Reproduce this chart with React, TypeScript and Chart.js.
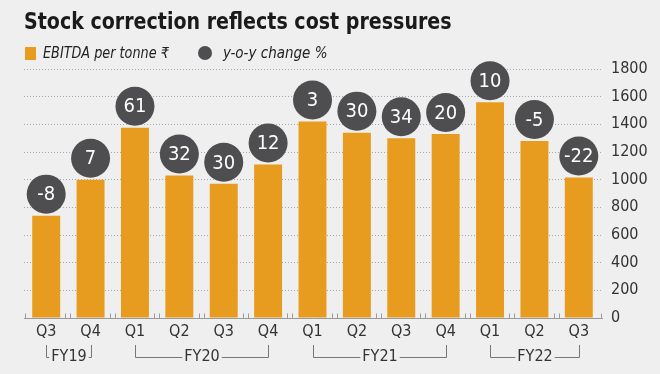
import React, { useEffect, useRef } from "react";
import { Chart, registerables } from "chart.js";

Chart.register(...registerables);

const quarters = ["Q3", "Q4", "Q1", "Q2", "Q3", "Q4", "Q1", "Q2", "Q3", "Q4", "Q1", "Q2", "Q3"];
const ebitda = [740, 1000, 1375, 1030, 970, 1110, 1420, 1340, 1300, 1330, 1560, 1280, 1015];
const yoyChange = [-8, 7, 61, 32, 30, 12, 3, 30, 34, 20, 10, -5, -22];
const fyLabels = ["FY19", "FY20", "FY21", "FY22"];
const fyStart = [0, 2, 6, 10];
const fyEnd = [1, 5, 9, 12];
const yTicks = [0, 200, 400, 600, 800, 1000, 1200, 1400, 1600, 1800];

const FONT = "'DejaVu Sans Condensed', 'Liberation Sans Narrow', sans-serif";
const BAR = "#E89C1F";
const DOT = "#4e4e50";
const BG = "#efefef";

const overlay = {
  id: "overlay",
  afterDatasetsDraw(chart: any) {
    const ctx = chart.ctx;
    const meta = chart.getDatasetMeta(0);
    ctx.save();
    meta.data.forEach((bar: any, i: number) => {
      const cx = bar.x;
      const cy = bar.y - 21.5;
      ctx.beginPath();
      ctx.arc(cx, cy, 19.5, 0, Math.PI * 2);
      ctx.fillStyle = DOT;
      ctx.fill();
      ctx.fillStyle = "#ffffff";
      ctx.font = `20px ${FONT}`;
      ctx.textAlign = "center";
      ctx.textBaseline = "middle";
      ctx.fillText(String(yoyChange[i]), cx, cy + 1);
    });
    ctx.restore();
  },
  afterDraw(chart: any) {
    const ctx = chart.ctx;
    const area = chart.chartArea;
    const xs = chart.scales.x;
    const ys = chart.scales.y;
    const base = Math.round(ys.getPixelForValue(0)) + 0.5;
    ctx.save();
    ctx.strokeStyle = "#9a9a9a";
    ctx.lineWidth = 1;
    ctx.beginPath();
    ctx.moveTo(area.left, base);
    ctx.lineTo(area.right + 2, base);
    ctx.stroke();
    const n = quarters.length;
    const tick = (px: number) => {
      ctx.beginPath();
      ctx.moveTo(Math.round(px) + 0.5, base);
      ctx.lineTo(Math.round(px) + 0.5, base - 5);
      ctx.stroke();
    };
    tick(area.left + 1);
    tick(area.right);
    for (let i = 1; i < n; i++) {
      const px = (xs.getPixelForValue(i - 1) + xs.getPixelForValue(i)) / 2;
      tick(px - 3);
      tick(px + 2);
    }
    ctx.font = `16px ${FONT}`;
    ctx.textAlign = "center";
    ctx.textBaseline = "middle";
    ctx.strokeStyle = "#777";
    ctx.fillStyle = "#333";
    const top = 345;
    const bot = 357.5;
    const ty = 356.5;
    fyLabels.forEach((lab, k) => {
      const x1 = Math.round(xs.getPixelForValue(fyStart[k])) + 0.5;
      const x2 = Math.round(xs.getPixelForValue(fyEnd[k])) + 0.5;
      const mid = (x1 + x2) / 2;
      const w = ctx.measureText(lab).width;
      ctx.beginPath();
      ctx.moveTo(x1, top);
      ctx.lineTo(x1, bot);
      ctx.lineTo(mid - w / 2 - 2, bot);
      ctx.moveTo(mid + w / 2 + 2, bot);
      ctx.lineTo(x2, bot);
      ctx.lineTo(x2, top);
      ctx.stroke();
      ctx.fillText(lab, mid, ty);
    });
    ctx.restore();
  },
};

const abs = (left: number, top: number, extra: any = {}) => ({
  position: "absolute" as const,
  left,
  top,
  whiteSpace: "nowrap" as const,
  transformOrigin: "left center",
  ...extra,
});

export default function App() {
  const ref = useRef<HTMLCanvasElement>(null);
  useEffect(() => {
    const canvas = ref.current;
    if (!canvas) return;
    const chart = new Chart(canvas, {
      type: "bar",
      data: {
        labels: quarters,
        datasets: [
          {
            label: "EBITDA per tonne ₹",
            data: ebitda,
            backgroundColor: BAR,
            borderWidth: 0,
            barPercentage: 0.63,
            categoryPercentage: 1,
          },
        ],
      },
      options: {
        responsive: false,
        animation: false,
        devicePixelRatio: 1,
        layout: { padding: { left: 24, top: 69, right: 0, bottom: 0 } },
        plugins: { legend: { display: false }, tooltip: { enabled: false }, title: { display: false } },
        scales: {
          x: {
            grid: { display: false, drawTicks: false, tickLength: 0 },
            border: { display: false },
            ticks: { color: "#333", font: { family: FONT, size: 16 }, padding: 4, maxRotation: 0, autoSkip: false },
            afterFit: (s: any) => {
              s.height = 56;
            },
          },
          y: {
            position: "right",
            min: 0,
            max: 1800,
            afterBuildTicks: (s: any) => {
              s.ticks = yTicks.map((v) => ({ value: v }));
            },
            grid: {
              color: (c: any) => (c.tick && c.tick.value === 0 ? "rgba(0,0,0,0)" : "#a8a8a8"),
              drawTicks: false,
              lineWidth: 1,
            },
            border: { display: false, dash: [1, 2] },
            ticks: {
              color: "#333",
              font: { family: FONT, size: 16 },
              padding: 10,
              callback: (v: any) => String(v),
            },
            afterFit: (s: any) => {
              s.width = 59;
            },
          },
        },
      },
      plugins: [overlay],
    });
    return () => chart.destroy();
  }, []);

  return (
    <div style={{ position: "fixed", left: 0, top: 0, width: 660, height: 374, background: BG, overflow: "hidden" }}>
      <canvas ref={ref} width={660} height={374} style={{ position: "absolute", left: 0, top: 0 }} />
      <div
        style={abs(24, 7, {
          fontFamily: FONT,
          fontWeight: "bold",
          fontSize: 23,
          lineHeight: "28px",
          color: "#1a1a1a",
          transform: "scaleX(0.92)",
        })}
      >
        Stock correction reflects cost pressures
      </div>
      <span style={abs(25, 47, { width: 11, height: 13, background: BAR })} />
      <span
        style={abs(43, 44, {
          fontFamily: FONT,
          fontStyle: "italic",
          fontSize: 15,
          lineHeight: "18px",
          color: "#222",
          transform: "scaleX(0.95)",
        })}
      >
        EBITDA per tonne ₹
      </span>
      <span style={abs(198, 46, { width: 14, height: 14, borderRadius: "50%", background: DOT })} />
      <span
        style={abs(223, 44, {
          fontFamily: FONT,
          fontStyle: "italic",
          fontSize: 15,
          lineHeight: "18px",
          color: "#222",
        })}
      >
        y-o-y change %
      </span>
    </div>
  );
}
